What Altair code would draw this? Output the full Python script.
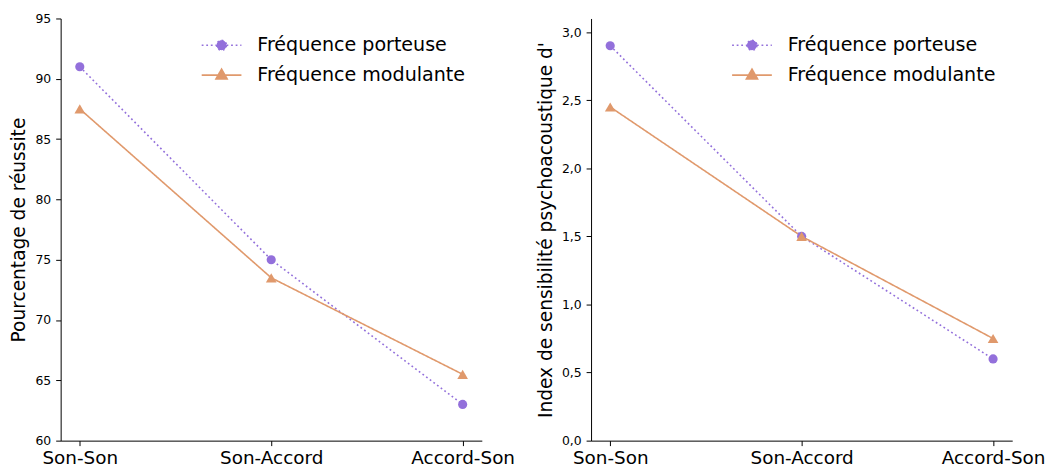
import altair as alt
import pandas as pd

conditions = ["Son-Son", "Son-Accord", "Accord-Son"]
series = ["Fréquence porteuse", "Fréquence modulante"]
pct_porteuse = [91, 75, 63]
pct_modulante = [87.5, 73.5, 65.5]
dprime_porteuse = [2.9, 1.5, 0.6]
dprime_modulante = [2.45, 1.5, 0.75]

left_ticks = [60, 65, 70, 75, 80, 85, 90, 95]
right_ticks = [0.0, 0.5, 1.0, 1.5, 2.0, 2.5, 3.0]

colors = ["#9370DB", "#E0996C"]
dashes = [[1.8, 2.8], [1, 0]]
marker_shapes = ["circle", "triangle-up"]
marker_sizes = [85, 115]
legend_paths = [
    "M-2,0L-0.5,0M0.5,0L2,0M0.5,0A0.5,0.5,0,1,1,-0.5,0A0.5,0.5,0,1,1,0.5,0Z",
    "M-2,0L2,0M0,-0.6L0.56,0.38L-0.56,0.38Z",
]
FONT = "DejaVu Sans"


def make_df(a, b):
    rows = []
    for s, vals in zip(series, [a, b]):
        for c, v in zip(conditions, vals):
            rows.append({"condition": c, "serie": s, "value": v})
    return pd.DataFrame(rows)


def panel(df, ydomain, yticks, ytitle, label_expr=None):
    x = alt.X(
        "condition:N",
        sort=conditions,
        scale=alt.Scale(type="point", padding=0.1),
        axis=alt.Axis(title=None, labelAngle=0, labelFontSize=18.5, labelPadding=3,
                      tickSize=5, grid=False),
    )
    axis_kw = dict(title=ytitle, values=yticks, grid=False, tickSize=5, labelFontSize=12.5,
                   titleFontSize=18.7, titleFontWeight="normal", titlePadding=6, labelPadding=5)
    if label_expr:
        axis_kw["labelExpr"] = label_expr
    y = alt.Y("value:Q", scale=alt.Scale(domain=ydomain, nice=False, zero=False),
              axis=alt.Axis(**axis_kw))
    base = alt.Chart(df)
    lines = base.mark_line(strokeWidth=1.6).encode(
        x=x, y=y,
        stroke=alt.Stroke("serie:N", scale=alt.Scale(domain=series, range=colors), legend=None),
        strokeDash=alt.StrokeDash("serie:N", scale=alt.Scale(domain=series, range=dashes), legend=None),
    )
    points = base.mark_point(filled=True, opacity=1, strokeWidth=0).encode(
        x=x, y=y,
        fill=alt.Fill("serie:N", scale=alt.Scale(domain=series, range=colors), legend=None),
        shape=alt.Shape("serie:N", scale=alt.Scale(domain=series, range=marker_shapes), legend=None),
        size=alt.Size("serie:N", scale=alt.Scale(domain=series, range=marker_sizes), legend=None),
    )
    leg = alt.Legend(title=None, orient="top-right", offset=16, labelFontSize=19.2,
                     labelFont=FONT, symbolSize=400, labelOffset=25, rowPadding=8,
                     symbolStrokeWidth=1.6, padding=0, labelColor="black", labelLimit=0)
    legend_layer = base.transform_filter("false").mark_point(
        filled=True, opacity=1, strokeWidth=1.6, size=400
    ).encode(
        fill=alt.Fill("serie:N", scale=alt.Scale(domain=series, range=colors), legend=leg),
        stroke=alt.Stroke("serie:N", scale=alt.Scale(domain=series, range=colors), legend=leg),
        shape=alt.Shape("serie:N", scale=alt.Scale(domain=series, range=legend_paths), legend=leg),
        strokeDash=alt.StrokeDash("serie:N", scale=alt.Scale(domain=series, range=dashes), legend=leg),
    )
    return alt.layer(lines, points, legend_layer).resolve_scale(
        stroke="independent", strokeDash="independent", shape="independent",
        fill="independent", size="independent"
    ).properties(width=424, height=425)


left = panel(make_df(pct_porteuse, pct_modulante), [60, 95], left_ticks,
             "Pourcentage de réussite")
right = panel(make_df(dprime_porteuse, dprime_modulante), [0, 3.1], right_ticks,
              "Index de sensibilité psychoacoustique d'",
              "replace(format(datum.value, '.1f'), '.', ',')")

chart = alt.hconcat(left, right, spacing=22).properties(
    padding={"left": 2, "top": 3, "right": 0, "bottom": 0}
).configure_view(stroke=None).configure_axis(
    labelFont=FONT, titleFont=FONT, domainColor="black", tickColor="black",
    labelColor="black", titleColor="black", domainWidth=1, tickWidth=1
).configure_legend(labelFont=FONT)

chart.save("out.html", embed_options={"renderer": "svg", "actions": False})
